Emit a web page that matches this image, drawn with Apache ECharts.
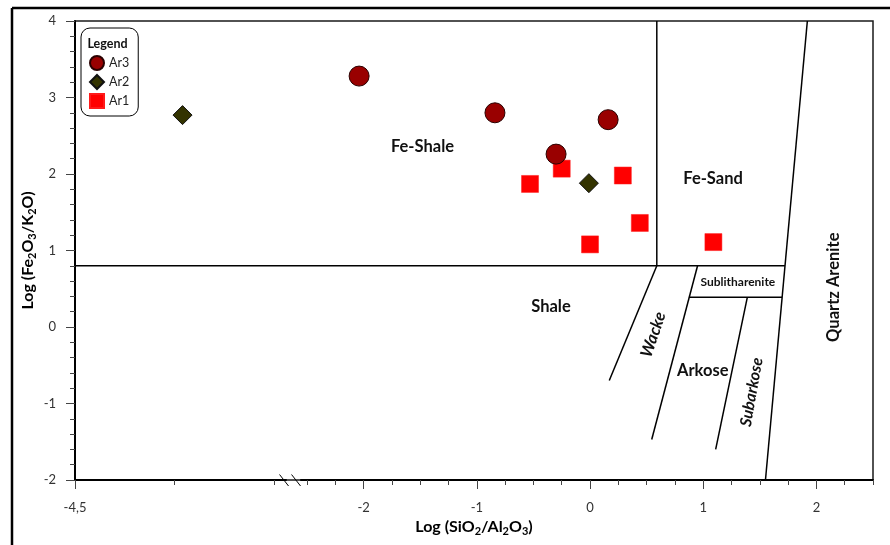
<!DOCTYPE html>
<html>
<head>
<meta charset="utf-8">
<script src="https://cdn.jsdelivr.net/npm/echarts@6/dist/echarts.min.js"></script>
<style>
  html, body { margin: 0; padding: 0; background: #fff; }
  #chart { width: 890px; height: 545px; }
</style>
</head>
<body>
<div id="chart"></div>
<script>
// Sample groups: [log(SiO2/Al2O3), log(Fe2O3/K2O)]
const ar3 = [[-2.04, 3.28], [-0.84, 2.80], [0.16, 2.71], [-0.30, 2.26]];
const ar2 = [[-3.55, 2.77], [-0.01, 1.88]];
const ar1 = [[-0.53, 1.87], [-0.25, 2.07], [0.29, 1.98], [0.44, 1.36], [0.00, 1.08], [1.09, 1.11]];

// Classification field boundaries (Herron-type diagram), in axis units
const boundaries = [
  [[-4.5, 0.8], [1.722, 0.8]],      // shale / Fe-shale, Fe-sand floor
  [[0.59, 0.8], [0.59, 4]],         // Fe-shale | Fe-sand
  [[1.92, 4], [1.55, -2]],          // quartz arenite limit
  [[0.59, 0.8], [0.17, -0.70]],     // shale | wacke
  [[0.95, 0.8], [0.545, -1.47]],    // wacke | arkose / litharenite
  [[0.874, 0.39], [1.697, 0.39]],   // sublitharenite floor
  [[1.39, 0.39], [1.11, -1.60]]     // arkose | subarkose
];

// Axis tick values
const xMajorTicks = [-4.5, -2, -1, 0, 1, 2];
const xMinorTicks = [-3.62, -2.74, -2.5, -2.25, -1.75, -1.5, -1.25, -0.75, -0.5, -0.25,
                     0.25, 0.5, 0.75, 1.25, 1.5, 1.75, 2.25, 2.5];
const xBreak = { start: -2.64, end: -2.56, gap: 0.13 };

// Field names and where they sit on the diagram
const regionLabels = [
  { text: 'Fe-Shale',       at: [-1.48, 2.36],  rot: 0,  size: 16.5, italic: false },
  { text: 'Fe-Sand',        at: [1.087, 1.94],  rot: 0,  size: 16.5, italic: false },
  { text: 'Shale',          at: [-0.345, 0.27], rot: 0,  size: 16.5, italic: false },
  { text: 'Sublitharenite', at: [1.306, 0.59],  rot: 0,  size: 12,   italic: false },
  { text: 'Wacke',          at: [0.559, -0.10], rot: 71, size: 16.5, italic: true },
  { text: 'Arkose',         at: [0.996, -0.57], rot: 0,  size: 16.5, italic: false },
  { text: 'Subarkose',      at: [1.428, -0.85], rot: 80, size: 16,   italic: true },
  { text: 'Quartz Arenite', at: [2.155, 0.52],  rot: 90, size: 16.5, italic: false }
];

const FONT = 'Lato, "Open Sans", "DejaVu Sans", sans-serif';

const subRich = {
  b: { fontFamily: FONT, fontSize: 16, fontWeight: 'bold', color: '#000', lineHeight: 20, verticalAlign: 'middle' },
  s: { fontFamily: FONT, fontSize: 11, fontWeight: 'bold', color: '#000', lineHeight: 10, verticalAlign: 'bottom' }
};

const chart = echarts.init(document.getElementById('chart'), null, { renderer: 'canvas' });

const boundarySeries = boundaries.map((seg, i) => ({
  type: 'line',
  name: 'boundary' + i,
  data: seg,
  symbol: 'none',
  silent: true,
  animation: false,
  z: 3,
  lineStyle: { color: '#000', width: 1.5 }
}));

const axisCommon = {
  type: 'value',
  min: -4.5,
  max: 2.5,
  breaks: [xBreak],
  breakArea: {
    show: false,
    itemStyle: { color: 'rgba(0,0,0,0)', borderColor: 'rgba(0,0,0,0)', opacity: 0 }
  },
  splitLine: { show: false },
  position: 'bottom'
};

chart.setOption({
  animation: false,
  backgroundColor: '#fff',
  grid: {
    left: 75, right: 17, top: 21, bottom: 65,
    show: true, borderColor: '#1a1a1a', borderWidth: 1.5,
    outerBoundsMode: 'none'
  },
  legend: {
    data: ['Ar3', 'Ar2', 'Ar1'],
    orient: 'vertical',
    left: 81, top: 28,
    padding: [27, 9, 7, 8],
    itemGap: 3,
    itemWidth: 14, itemHeight: 14,
    borderColor: '#000', borderWidth: 1, borderRadius: 9,
    backgroundColor: '#fff',
    textStyle: { fontFamily: FONT, fontSize: 12.5, color: '#222', lineHeight: 14 },
    selectedMode: false
  },
  xAxis: [
    Object.assign({}, axisCommon, {
      name: '{b|Log (SiO}{s|2}{b|/Al}{s|2}{b|O}{s|3}{b|)}',
      nameLocation: 'middle',
      nameGap: 37,
      nameMoveOverlap: false,
      nameTextStyle: { rich: subRich },
      axisLine: { show: true, onZero: false, lineStyle: { color: '#000', width: 2 } },
      axisTick: { show: true, length: 9, customValues: xMajorTicks, lineStyle: { color: '#444', width: 1 } },
      axisLabel: {
        show: true, margin: 21, customValues: xMajorTicks,
        fontFamily: FONT, fontSize: 13, color: '#333',
        formatter: v => String(v).replace('.', ',')
      }
    }),
    Object.assign({}, axisCommon, {
      axisLine: { show: false, onZero: false },
      axisTick: { show: true, length: 5, customValues: xMinorTicks, lineStyle: { color: '#444', width: 1 } },
      axisLabel: { show: false }
    })
  ],
  yAxis: {
    type: 'value',
    min: -2, max: 4, interval: 1,
    name: '{b|Log (Fe}{s|2}{b|O}{s|3}{b|/K}{s|2}{b|O)}',
    nameLocation: 'middle',
    nameGap: 37,
    nameRotate: 90,
    nameMoveOverlap: false,
    nameTextStyle: { rich: subRich },
    splitLine: { show: false },
    axisLine: { show: true, onZero: false, lineStyle: { color: '#000', width: 2 } },
    axisTick: { show: true, length: 9, lineStyle: { color: '#444', width: 1 } },
    minorTick: { show: true, splitNumber: 5, length: 5, lineStyle: { color: '#444', width: 1 } },
    axisLabel: { margin: 19, fontFamily: FONT, fontSize: 13, color: '#333' }
  },
  graphic: [
    // outer frame
    { type: 'line', shape: { x1: 12, y1: 8, x2: 890, y2: 8 }, style: { stroke: '#000', lineWidth: 2.5 }, z: 10 },
    { type: 'line', shape: { x1: 12, y1: 8, x2: 12, y2: 545 }, style: { stroke: '#000', lineWidth: 2.5 }, z: 10 },
    // legend heading
    { type: 'text', x: 107.5, y: 43.5, z: 20,
      style: { text: 'Legend', font: 'bold 12.5px ' + FONT, fill: '#111', align: 'center', verticalAlign: 'middle' } }
  ],
  series: boundarySeries.concat([
    {
      type: 'custom',
      name: 'fields',
      silent: true,
      z: 4,
      data: regionLabels.map(l => l.at),
      renderItem: (params, api) => {
        const l = regionLabels[params.dataIndex];
        const p = api.coord([api.value(0), api.value(1)]);
        return {
          type: 'text',
          x: p[0], y: p[1],
          rotation: l.rot * Math.PI / 180,
          style: {
            text: l.text,
            font: (l.italic ? 'italic ' : '') + 'bold ' + l.size + 'px ' + FONT,
            fill: '#111',
            align: 'center',
            verticalAlign: 'middle'
          }
        };
      }
    },
    {
      type: 'custom',
      name: 'axis break',
      silent: true,
      z: 6,
      data: [[xBreak.start, -2]],
      renderItem: (params, api) => {
        const p = api.coord([api.value(0), api.value(1)]);
        const mark = dx => ({
          type: 'line',
          shape: { x1: p[0] + dx - 4.5, y1: p[1] - 5.5, x2: p[0] + dx + 4.5, y2: p[1] + 6 },
          style: { stroke: '#000', lineWidth: 1 }
        });
        return { type: 'group', children: [mark(-1.5), mark(10.5)] };
      }
    },
    {
      type: 'scatter', name: 'Ar1', data: ar1, z: 5,
      symbol: 'rect', symbolSize: 17,
      itemStyle: { color: '#ff0000', borderColor: '#ff1a1a', borderWidth: 0.5, opacity: 1 }
    },
    {
      type: 'scatter', name: 'Ar2', data: ar2, z: 6,
      symbol: 'diamond', symbolSize: 19,
      itemStyle: { color: '#333300', borderColor: '#111', borderWidth: 1, opacity: 1 }
    },
    {
      type: 'scatter', name: 'Ar3', data: ar3, z: 7,
      symbol: 'circle', symbolSize: 20,
      itemStyle: { color: '#990000', borderColor: '#2a0000', borderWidth: 1, opacity: 1 }
    }
  ])
});
</script>
</body>
</html>
